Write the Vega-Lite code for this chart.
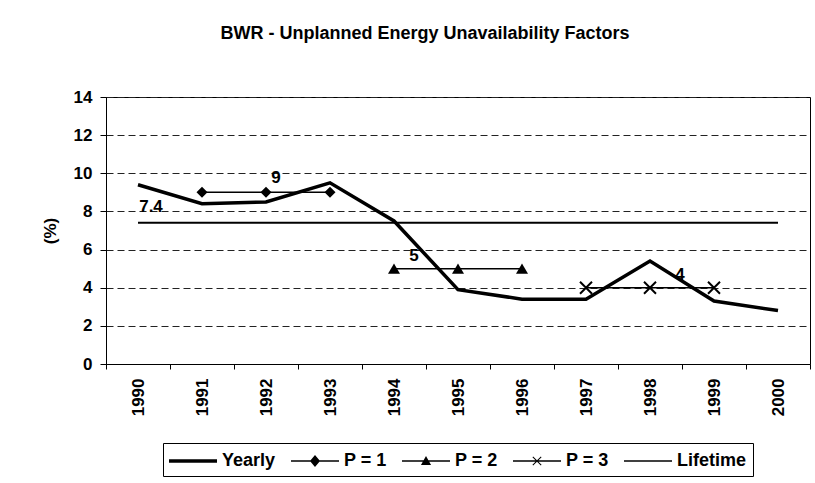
{
  "$schema": "https://vega.github.io/schema/vega-lite/v6.json",
  "width": 704,
  "height": 267,
  "autosize": {"type": "none"},
  "padding": {"left": 106, "top": 97, "right": 5, "bottom": 119},
  "background": "white",
  "title": {"text": "BWR - Unplanned Energy Unavailability Factors", "fontSize": 18, "fontWeight": "bold", "font": "Liberation Sans", "anchor": "middle", "dx": -33, "offset": 45, "color": "black"},
  "datasets": {
    "series": [
      {"series": "Yearly", "year": "1990", "value": 9.4},
      {"series": "Yearly", "year": "1991", "value": 8.4},
      {"series": "Yearly", "year": "1992", "value": 8.5},
      {"series": "Yearly", "year": "1993", "value": 9.5},
      {"series": "Yearly", "year": "1994", "value": 7.5},
      {"series": "Yearly", "year": "1995", "value": 3.9},
      {"series": "Yearly", "year": "1996", "value": 3.4},
      {"series": "Yearly", "year": "1997", "value": 3.4},
      {"series": "Yearly", "year": "1998", "value": 5.4},
      {"series": "Yearly", "year": "1999", "value": 3.3},
      {"series": "Yearly", "year": "2000", "value": 2.8},
      {"series": "P = 1", "year": "1991", "value": 9},
      {"series": "P = 1", "year": "1992", "value": 9},
      {"series": "P = 1", "year": "1993", "value": 9},
      {"series": "P = 2", "year": "1994", "value": 5},
      {"series": "P = 2", "year": "1995", "value": 5},
      {"series": "P = 2", "year": "1996", "value": 5},
      {"series": "P = 3", "year": "1997", "value": 4},
      {"series": "P = 3", "year": "1998", "value": 4},
      {"series": "P = 3", "year": "1999", "value": 4},
      {"series": "Lifetime", "year": "1990", "value": 7.4},
      {"series": "Lifetime", "year": "1991", "value": 7.4},
      {"series": "Lifetime", "year": "1992", "value": 7.4},
      {"series": "Lifetime", "year": "1993", "value": 7.4},
      {"series": "Lifetime", "year": "1994", "value": 7.4},
      {"series": "Lifetime", "year": "1995", "value": 7.4},
      {"series": "Lifetime", "year": "1996", "value": 7.4},
      {"series": "Lifetime", "year": "1997", "value": 7.4},
      {"series": "Lifetime", "year": "1998", "value": 7.4},
      {"series": "Lifetime", "year": "1999", "value": 7.4},
      {"series": "Lifetime", "year": "2000", "value": 7.4}
    ],
    "labels": [
      {"series": "P = 1", "year": "1992", "value": 9, "label": "9"},
      {"series": "P = 2", "year": "1994", "value": 5, "label": "5"},
      {"series": "P = 3", "year": "1998", "value": 4, "label": "4"},
      {"series": "Lifetime", "year": "1990", "value": 7.4, "label": "7.4"}
    ]
  },
  "encoding": {
    "x": {
      "field": "year", "type": "ordinal",
      "scale": {"type": "band", "paddingInner": 0, "paddingOuter": 0, "domain": ["1990","1991","1992","1993","1994","1995","1996","1997","1998","1999","2000"]},
      "axis": {"title": null, "labelAngle": -90, "labelFontSize": 17, "labelFontWeight": "bold", "labelColor": "black", "tickBand": "extent", "tickSize": 5, "tickColor": "black", "domainColor": "black", "labelPadding": 9, "grid": false}
    },
    "y": {
      "field": "value", "type": "quantitative",
      "scale": {"domain": [0, 14], "nice": false},
      "axis": {"title": "(%)", "values": [0, 2, 4, 6, 8, 10, 12, 14], "labelFontSize": 17, "labelFontWeight": "bold", "labelColor": "black", "tickSize": 6, "tickColor": "black", "labelPadding": 8, "grid": true, "gridDash": [7, 4], "gridColor": "#222", "gridOpacity": 1, "titleFontSize": 17, "titleFontWeight": "bold", "titleColor": "black", "titlePadding": 14, "domainColor": "black"}
    }
  },
  "layer": [
    {
      "data": {"name": "series"},
      "transform": [{"filter": "datum.series === 'Lifetime'"}],
      "mark": {"type": "line", "color": "black", "strokeWidth": 2},
      "encoding": {}
    },
    {
      "data": {"name": "series"},
      "transform": [{"filter": "datum.series === 'P = 1' || datum.series === 'P = 2' || datum.series === 'P = 3'"}],
      "mark": {"type": "line", "color": "black", "strokeWidth": 1.5},
      "encoding": {"detail": {"field": "series"}}
    },
    {
      "data": {"name": "series"},
      "transform": [{"filter": "datum.series === 'Yearly'"}],
      "mark": {"type": "line", "color": "black", "strokeWidth": 3.5},
      "encoding": {}
    },
    {
      "data": {"name": "series"},
      "transform": [{"filter": "datum.series === 'P = 1'"}],
      "mark": {"type": "point", "shape": "diamond", "filled": true, "color": "black", "opacity": 1, "size": 121},
      "encoding": {}
    },
    {
      "data": {"name": "series"},
      "transform": [{"filter": "datum.series === 'P = 2'"}],
      "mark": {"type": "point", "shape": "triangle-up", "filled": true, "color": "black", "opacity": 1, "size": 144},
      "encoding": {}
    },
    {
      "data": {"name": "series"},
      "transform": [{"filter": "datum.series === 'P = 3'"}],
      "mark": {"type": "point", "shape": "M-1,-1L1,1M1,-1L-1,1", "filled": false, "color": "black", "opacity": 1, "strokeWidth": 2, "size": 144},
      "encoding": {}
    },
    {
      "data": {"name": "labels"},
      "transform": [{"filter": "datum.series === 'P = 1'"}],
      "mark": {"type": "text", "font": "Liberation Sans", "fontSize": 17, "fontWeight": "bold", "color": "black", "dx": 10, "dy": -14, "baseline": "middle"},
      "encoding": {"text": {"field": "label"}}
    },
    {
      "data": {"name": "labels"},
      "transform": [{"filter": "datum.series === 'P = 2'"}],
      "mark": {"type": "text", "font": "Liberation Sans", "fontSize": 17, "fontWeight": "bold", "color": "black", "dx": 20, "dy": -13, "baseline": "middle"},
      "encoding": {"text": {"field": "label"}}
    },
    {
      "data": {"name": "labels"},
      "transform": [{"filter": "datum.series === 'P = 3'"}],
      "mark": {"type": "text", "font": "Liberation Sans", "fontSize": 17, "fontWeight": "bold", "color": "black", "dx": 30, "dy": -13, "baseline": "middle"},
      "encoding": {"text": {"field": "label"}}
    },
    {
      "data": {"name": "labels"},
      "transform": [{"filter": "datum.series === 'Lifetime'"}],
      "mark": {"type": "text", "font": "Liberation Sans", "fontSize": 17, "fontWeight": "bold", "color": "black", "dx": 13, "dy": -16, "baseline": "middle"},
      "encoding": {"text": {"field": "label"}}
    },
    {
      "data": {"name": "series"},
      "transform": [{"filter": "datum.value < 0"}],
      "mark": {"type": "point", "filled": true, "color": "black"},
      "encoding": {
        "shape": {
          "field": "series", "type": "nominal",
          "scale": {
            "domain": ["Yearly", "P = 1", "P = 2", "P = 3", "Lifetime"],
            "range": [
              "M-1,-0.15H3V0.15H-1Z",
              "M-1,-0.065H3V0.065H-1ZM1,-0.5L1.42,0L1,0.5L0.58,0Z",
              "M-1,-0.065H3V0.065H-1ZM1,-0.42L1.42,0.33H0.58Z",
              "M-1,-0.065H3V0.065H-1ZM0.62,-0.32L0.68,-0.38L1.38,0.32L1.32,0.38ZM1.38,-0.32L0.68,0.38L0.62,0.32L1.32,-0.38Z",
              "M-1,-0.065H3V0.065H-1Z"
            ]
          },
          "legend": {
            "orient": "none", "legendX": 57, "legendY": 346,
            "direction": "horizontal", "columns": 5, "title": null,
            "strokeColor": "black", "fillColor": "white", "padding": 6,
            "labelFont": "Liberation Sans", "labelFontSize": 18, "labelFontWeight": "bold", "labelColor": "black",
            "symbolSize": 576, "symbolFillColor": "black", "symbolStrokeColor": "black", "symbolStrokeWidth": 0, "symbolOpacity": 1,
            "columnPadding": 15, "labelOffset": 29
          }
        }
      }
    }
  ],
  "config": {
    "font": "Liberation Sans",
    "view": {"stroke": "black", "strokeWidth": 1},
    "axis": {"labelFont": "Liberation Sans", "titleFont": "Liberation Sans"}
  }
}
